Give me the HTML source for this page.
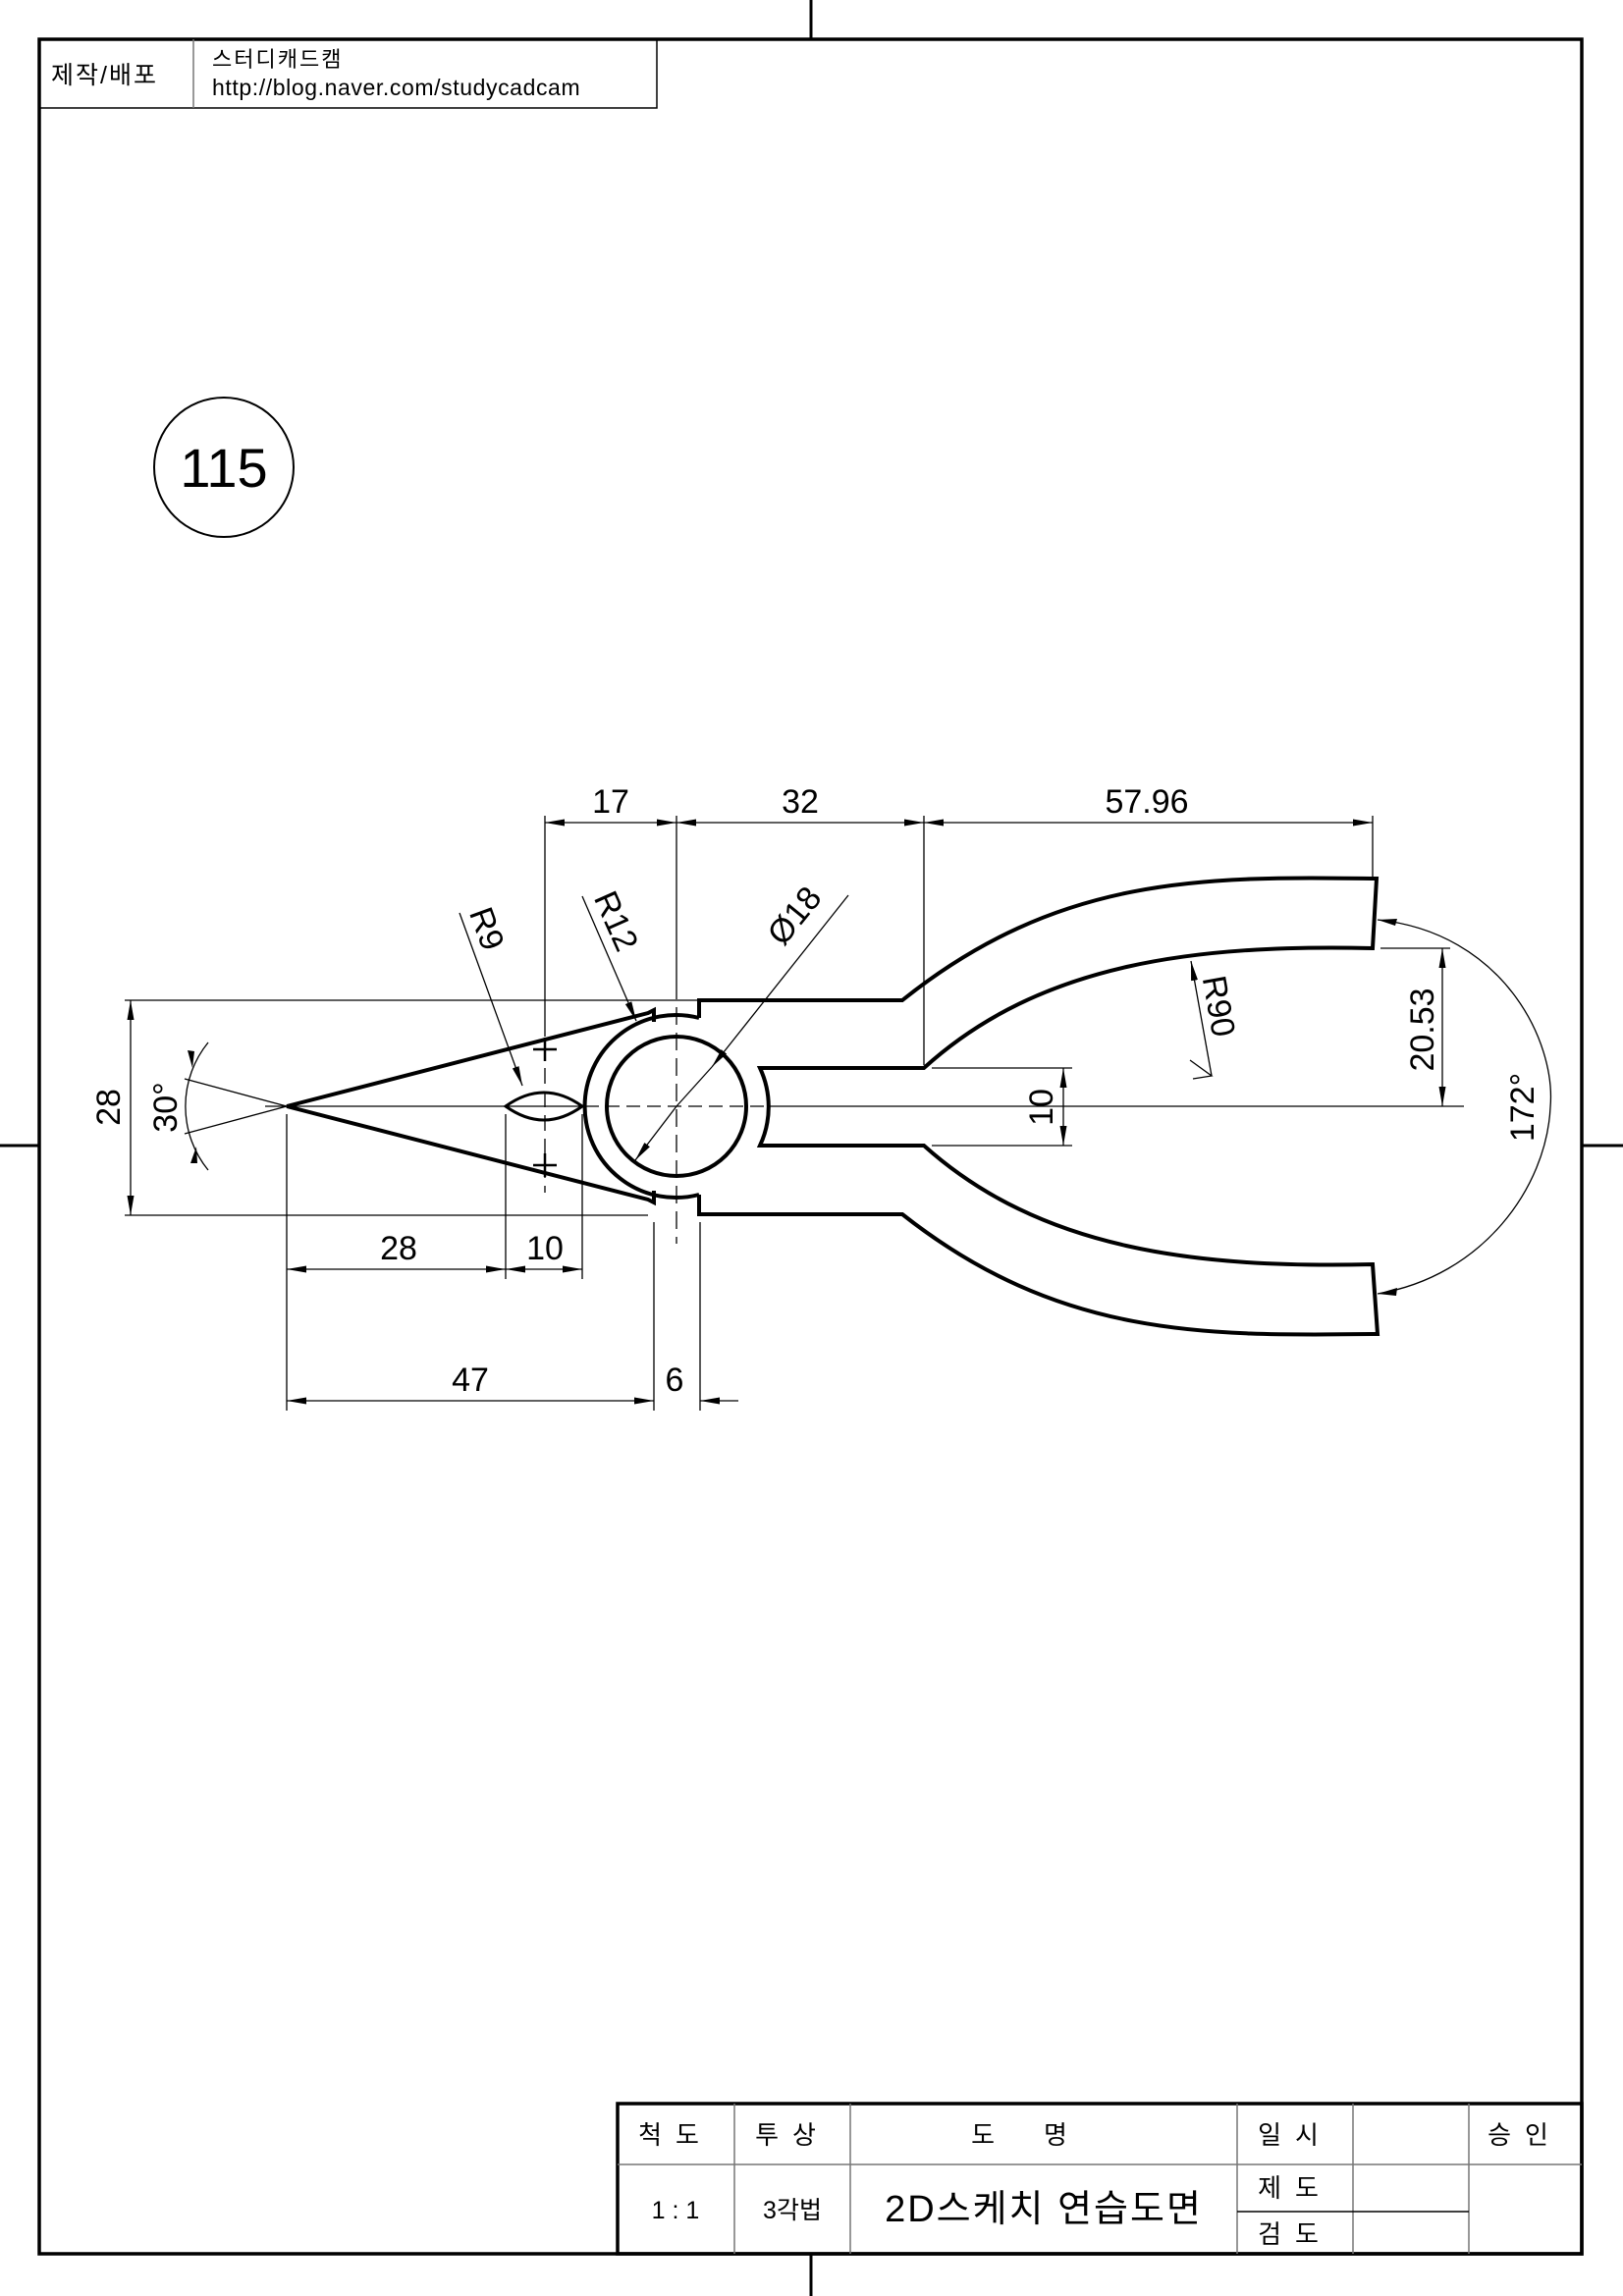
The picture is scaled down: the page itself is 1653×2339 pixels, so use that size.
<!DOCTYPE html>
<html><head><meta charset="utf-8"><style>
html,body{margin:0;padding:0;background:#fff}
svg{display:block}
text{font-family:"Liberation Sans","Noto Sans CJK KR",sans-serif;fill:#000}
</style></head><body>
<svg width="1653" height="2339" viewBox="0 0 1653 2339" xmlns="http://www.w3.org/2000/svg">
<defs>
<marker id="a" markerUnits="userSpaceOnUse" markerWidth="22" markerHeight="8" refX="20" refY="3.5" orient="auto-start-reverse"><path d="M0,0 L20,3.5 L0,7 z" fill="#000"/></marker>
</defs>
<!-- frame -->
<rect x="40" y="40" width="1571" height="2256" fill="none" stroke="#000" stroke-width="3.5"/>
<g stroke="#000" stroke-width="3">
<line x1="826" y1="0" x2="826" y2="40"/><line x1="826" y1="2296" x2="826" y2="2339"/>
<line x1="0" y1="1167" x2="40" y2="1167"/><line x1="1611" y1="1167" x2="1653" y2="1167"/>
</g>
<!-- header -->
<rect x="40" y="40" width="629" height="70" fill="none" stroke="#000" stroke-width="1.5"/>
<line x1="197" y1="40" x2="197" y2="110" stroke="#777" stroke-width="1.5"/>
<text x="52" y="85" font-size="25" letter-spacing="2">제작/배포</text>
<text x="216" y="68" font-size="22" letter-spacing="2">스터디캐드캠</text>
<text x="216" y="97" font-size="23" letter-spacing="0.6">http://blog.naver.com/studycadcam</text>
<!-- 115 -->
<circle cx="228" cy="476" r="71" fill="none" stroke="#000" stroke-width="2"/>
<text x="228" y="496" font-size="56" text-anchor="middle">115</text>

<!-- part outline -->
<g fill="none" stroke="#000" stroke-width="4" stroke-linejoin="miter">
<path d="M292,1127 L660,1032 L666,1029 L666,1041"/>
<path d="M292,1127 L660,1222 L666,1225 L666,1213"/>
<path d="M712,1037 A93,93 0 1 0 712,1217"/>
<path d="M712,1037 L712,1019 L919,1019 C1080,890 1230,893 1402,895 L1398,966 C1220,962 1060,980 941,1088 L774,1088 A93,93 0 0 1 774,1167 L941,1167 C1060,1274 1220,1292 1398,1288 L1403,1359 C1230,1361 1080,1364 919,1237 L712,1237 L712,1217"/>
<circle cx="689" cy="1127" r="71"/>
<path d="M515,1127 Q554,1099 593,1127 Q554,1155 515,1127 Z" stroke-width="3"/>
</g>
<g stroke="#000" stroke-width="2.5">
<line x1="543" y1="1069" x2="567" y2="1069"/><line x1="555" y1="1057" x2="555" y2="1081"/>
<line x1="543" y1="1187" x2="567" y2="1187"/><line x1="555" y1="1175" x2="555" y2="1199"/>
</g>

<!-- thin lines -->
<g stroke="#000" stroke-width="1.3" fill="none">
<!-- centerlines -->
<line x1="270" y1="1127" x2="596" y2="1127"/>
<line x1="596" y1="1127" x2="782" y2="1127" stroke-dasharray="14,7"/>
<line x1="782" y1="1127" x2="1491" y2="1127"/>
<line x1="689" y1="831" x2="689" y2="1000"/>
<line x1="689" y1="1000" x2="689" y2="1267" stroke-dasharray="18,8"/>
<line x1="555" y1="831" x2="555" y2="1040"/>
<line x1="555" y1="1040" x2="555" y2="1215" stroke-dasharray="16,8"/>
<!-- extension lines -->
<line x1="941" y1="831" x2="941" y2="1085"/>
<line x1="1398" y1="831" x2="1398" y2="893"/>
<line x1="127" y1="1019" x2="712" y2="1019"/>
<line x1="127" y1="1238" x2="660" y2="1238"/>
<line x1="292" y1="1135" x2="292" y2="1437"/>
<line x1="515" y1="1135" x2="515" y2="1303"/>
<line x1="593" y1="1135" x2="593" y2="1303"/>
<line x1="666" y1="1245" x2="666" y2="1437"/>
<line x1="713" y1="1245" x2="713" y2="1437"/>
<line x1="949" y1="1088" x2="1092" y2="1088"/>
<line x1="949" y1="1167" x2="1092" y2="1167"/>
<line x1="1406" y1="966" x2="1477" y2="966"/>
<!-- 30deg radial lines -->
<line x1="292" y1="1127" x2="188" y2="1099"/>
<line x1="292" y1="1127" x2="188" y2="1155"/>
<!-- dims -->
<line x1="555" y1="838" x2="689" y2="838" marker-start="url(#a)" marker-end="url(#a)"/>
<line x1="689" y1="838" x2="941" y2="838" marker-start="url(#a)" marker-end="url(#a)"/>
<line x1="941" y1="838" x2="1398" y2="838" marker-start="url(#a)" marker-end="url(#a)"/>
<line x1="133" y1="1019" x2="133" y2="1238" marker-start="url(#a)" marker-end="url(#a)"/>
<line x1="292" y1="1293" x2="515" y2="1293" marker-start="url(#a)" marker-end="url(#a)"/>
<line x1="515" y1="1293" x2="593" y2="1293" marker-start="url(#a)" marker-end="url(#a)"/>
<line x1="292" y1="1427" x2="666" y2="1427" marker-start="url(#a)" marker-end="url(#a)"/>
<line x1="752" y1="1427" x2="713" y2="1427" marker-end="url(#a)"/>
<line x1="1083" y1="1088" x2="1083" y2="1167" marker-start="url(#a)" marker-end="url(#a)"/>
<line x1="1469" y1="966" x2="1469" y2="1127" marker-start="url(#a)" marker-end="url(#a)"/>
<!-- 30 deg arc -->
<path d="M212,1062 A103,103 0 0 0 212,1192"/>
<!-- 172 arc -->
<path d="M1403,937 C1530,950 1585,1060 1579,1128 C1575,1210 1510,1300 1403,1318"/>
<!-- leaders -->
<line x1="468" y1="930" x2="532" y2="1106" marker-end="url(#a)"/>
<line x1="593" y1="913" x2="648" y2="1040" marker-end="url(#a)"/>
<line x1="864" y1="912" x2="725" y2="1087" marker-end="url(#a)"/>
<line x1="689" y1="1127" x2="647" y2="1182" marker-end="url(#a)"/>
<line x1="725" y1="1087" x2="689" y2="1127"/>
<polyline points="1212,1080 1234,1096 1215,1099"/>
<line x1="1234" y1="1096" x2="1213" y2="979" marker-end="url(#a)"/>
</g>
<!-- 30 deg arrowheads -->
<path d="M196,1088 l-5,-18 l7,1 z" fill="#000"/>
<path d="M200,1168 l-6,17 l7,0 z" fill="#000"/>
<!-- 172 arrowheads -->
<path d="M1403,937 l20,-1 l-2,7 z" fill="#000"/>
<path d="M1403,1318 l20,-6 l-1,8 z" fill="#000"/>

<!-- dim text -->
<g font-size="34">
<text x="622" y="828" text-anchor="middle">17</text>
<text x="815" y="828" text-anchor="middle">32</text>
<text x="1168" y="828" text-anchor="middle">57.96</text>
<text x="406" y="1283" text-anchor="middle">28</text>
<text x="555" y="1283" text-anchor="middle">10</text>
<text x="479" y="1417" text-anchor="middle">47</text>
<text x="687" y="1417" text-anchor="middle">6</text>
<text transform="translate(122,1128) rotate(-90)" text-anchor="middle">28</text>
<text transform="translate(180,1128) rotate(-90)" text-anchor="middle">30°</text>
<text transform="translate(1072,1128) rotate(-90)" text-anchor="middle">10</text>
<text transform="translate(1460,1049) rotate(-90)" text-anchor="middle">20.53</text>
<text transform="translate(1562,1128) rotate(-90)" text-anchor="middle">172°</text>
<text transform="translate(485,950) rotate(70)" text-anchor="middle">R9</text>
<text transform="translate(617,943) rotate(66)" text-anchor="middle">R12</text>
<text transform="translate(1230,1027) rotate(80)" text-anchor="middle">R90</text>
<text transform="translate(818,940) rotate(-51)" text-anchor="middle">Ø18</text>
</g>

<!-- title block -->
<g fill="none">
<rect x="629" y="2143" width="982" height="153" stroke="#000" stroke-width="3.5"/>
<g stroke="#777" stroke-width="1.5">
<line x1="629" y1="2205" x2="1611" y2="2205"/>
<line x1="748" y1="2143" x2="748" y2="2296"/>
<line x1="866" y1="2143" x2="866" y2="2296"/>
<line x1="1260" y1="2143" x2="1260" y2="2296"/>
<line x1="1378" y1="2143" x2="1378" y2="2296"/>
<line x1="1496" y1="2143" x2="1496" y2="2296"/>
</g>
<line x1="1260" y1="2253" x2="1496" y2="2253" stroke="#000" stroke-width="1.5"/>
</g>
<g font-size="26" text-anchor="middle">
<text x="688" y="2184" letter-spacing="14">척도</text>
<text x="807" y="2184" letter-spacing="14">투상</text>
<text x="1063" y="2184" letter-spacing="50">도명</text>
<text x="1319" y="2184" letter-spacing="14">일시</text>
<text x="1553" y="2184" letter-spacing="14">승인</text>
<text x="1319" y="2238" letter-spacing="14">제도</text>
<text x="1319" y="2285" letter-spacing="14">검도</text>
<text x="688" y="2260" font-size="25">1 : 1</text>
<text x="807" y="2260" font-size="25">3각법</text>
<text x="1063" y="2263" font-size="38" letter-spacing="2">2D스케치 연습도면</text>
</g>
</svg>
</body></html>
